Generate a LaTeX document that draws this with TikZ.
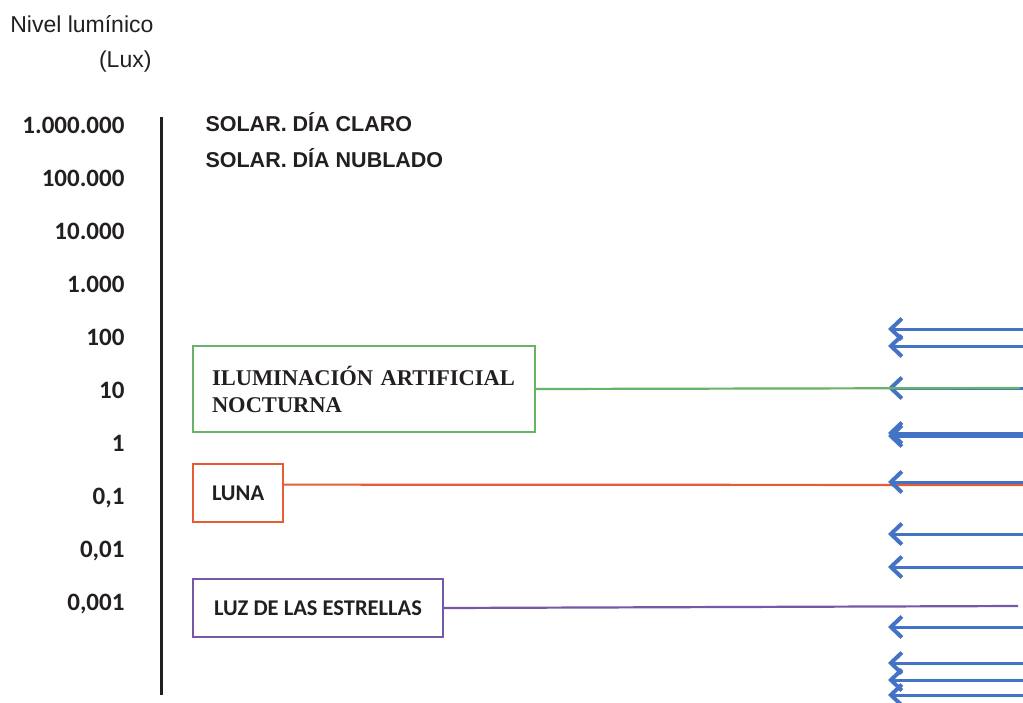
\documentclass[tikz,border=0pt]{standalone}
\usepackage{fontspec}
\setmainfont{Liberation Sans}
\newfontfamily\calfont{Carlito}
\newfontfamily\romfont{Liberation Serif}
\usetikzlibrary{arrows.meta,calc}
\definecolor{cblue}{RGB}{68,114,196}
\definecolor{cgreen}{RGB}{106,178,104}
\definecolor{cred}{RGB}{230,92,52}
\definecolor{cpurple}{RGB}{118,88,166}
\definecolor{ctext}{RGB}{35,31,32}
\tikzset{luxsc/.style={x=1pt,y=-1pt,text=ctext},
  scalelab/.style={anchor=base east,font=\calfont\bfseries\fontsize{25}{30}\selectfont},
  sunlab/.style={anchor=base west,font=\bfseries\fontsize{21.5}{24}\selectfont},
  srcbox/.style={draw=#1,line width=2pt,anchor=west,minimum height=58pt,inner xsep=19pt,
    font=\calfont\bfseries\fontsize{22.5}{27}\selectfont},
  srcline/.style={draw=#1,line width=2.2pt},
  inarrow/.style={draw=cblue,line width=3pt,-{Straight Barb[length=11pt,width=21pt,line width=1pt 1]}}}

\begin{document}
\begin{tikzpicture}[luxsc]
    \useasboundingbox (0,0) rectangle (1023,702);
    \node[anchor=base east,font=\fontsize{23}{28}\selectfont] (title) at (157,32) {Nivel lumínico};
    \node[anchor=base east,font=\fontsize{23}{28}\selectfont] (unit) at (155,67) {(Lux)};
    % scale labels
    \foreach \v [count=\i] in {1.000.000,100.000,10.000,1.000,100,10,1,{0,1},{0,01},{0,001}}
      \node[scalelab] (lab\i) at (128,{133+53.1*(\i-1)}) {\v};
    \coordinate (axtop) at (161,117);
    \coordinate (axbot) at (161,695);
    \draw[line width=3pt,ctext] (axtop) -- (axbot); % axis
    \node[sunlab] (clear) at (202,131) {SOLAR. DÍA CLARO};
    \node[sunlab] (cloud) at (202,167) {SOLAR. DÍA NUBLADO};
    % source boxes
    \node[srcbox=cgreen,minimum width=342pt,minimum height=86pt,text width=304pt,align=left,
      font=\romfont\bfseries\fontsize{22.5}{27}\selectfont] (artif) at (192,389)
      {ILUMINACIÓN ARTIFICIAL\\NOCTURNA};
    \node[srcbox=cred,minimum width=90pt] (moon) at (192,493) {LUNA};
    \node[srcbox=cpurple,minimum width=250pt] (stars) at (192,608) {LUZ DE LAS ESTRELLAS};
    \coordinate (moonr) at (1023,485);
    \draw[srcline=cred] ($(moon.north east)!0.36!(moon.south east)$) -- (moonr); % red line
    % blue arrows
    \foreach \y [count=\k] in {329,346,388,433,436,482,534,567,627,663,680,695} {
      \coordinate (in\k) at (1030,\y);
      \coordinate (tip\k) at (888,\y);
      \draw[inarrow] (in\k) -- (tip\k);
    }
    \coordinate (artifr) at (1020,388);
    \coordinate (starsr) at (1018,606);
    \draw[srcline=cgreen] (artif.east) -- (artifr); % green line
    \draw[srcline=cpurple] (stars.east) -- (starsr); % purple line
\end{tikzpicture}
\end{document}
